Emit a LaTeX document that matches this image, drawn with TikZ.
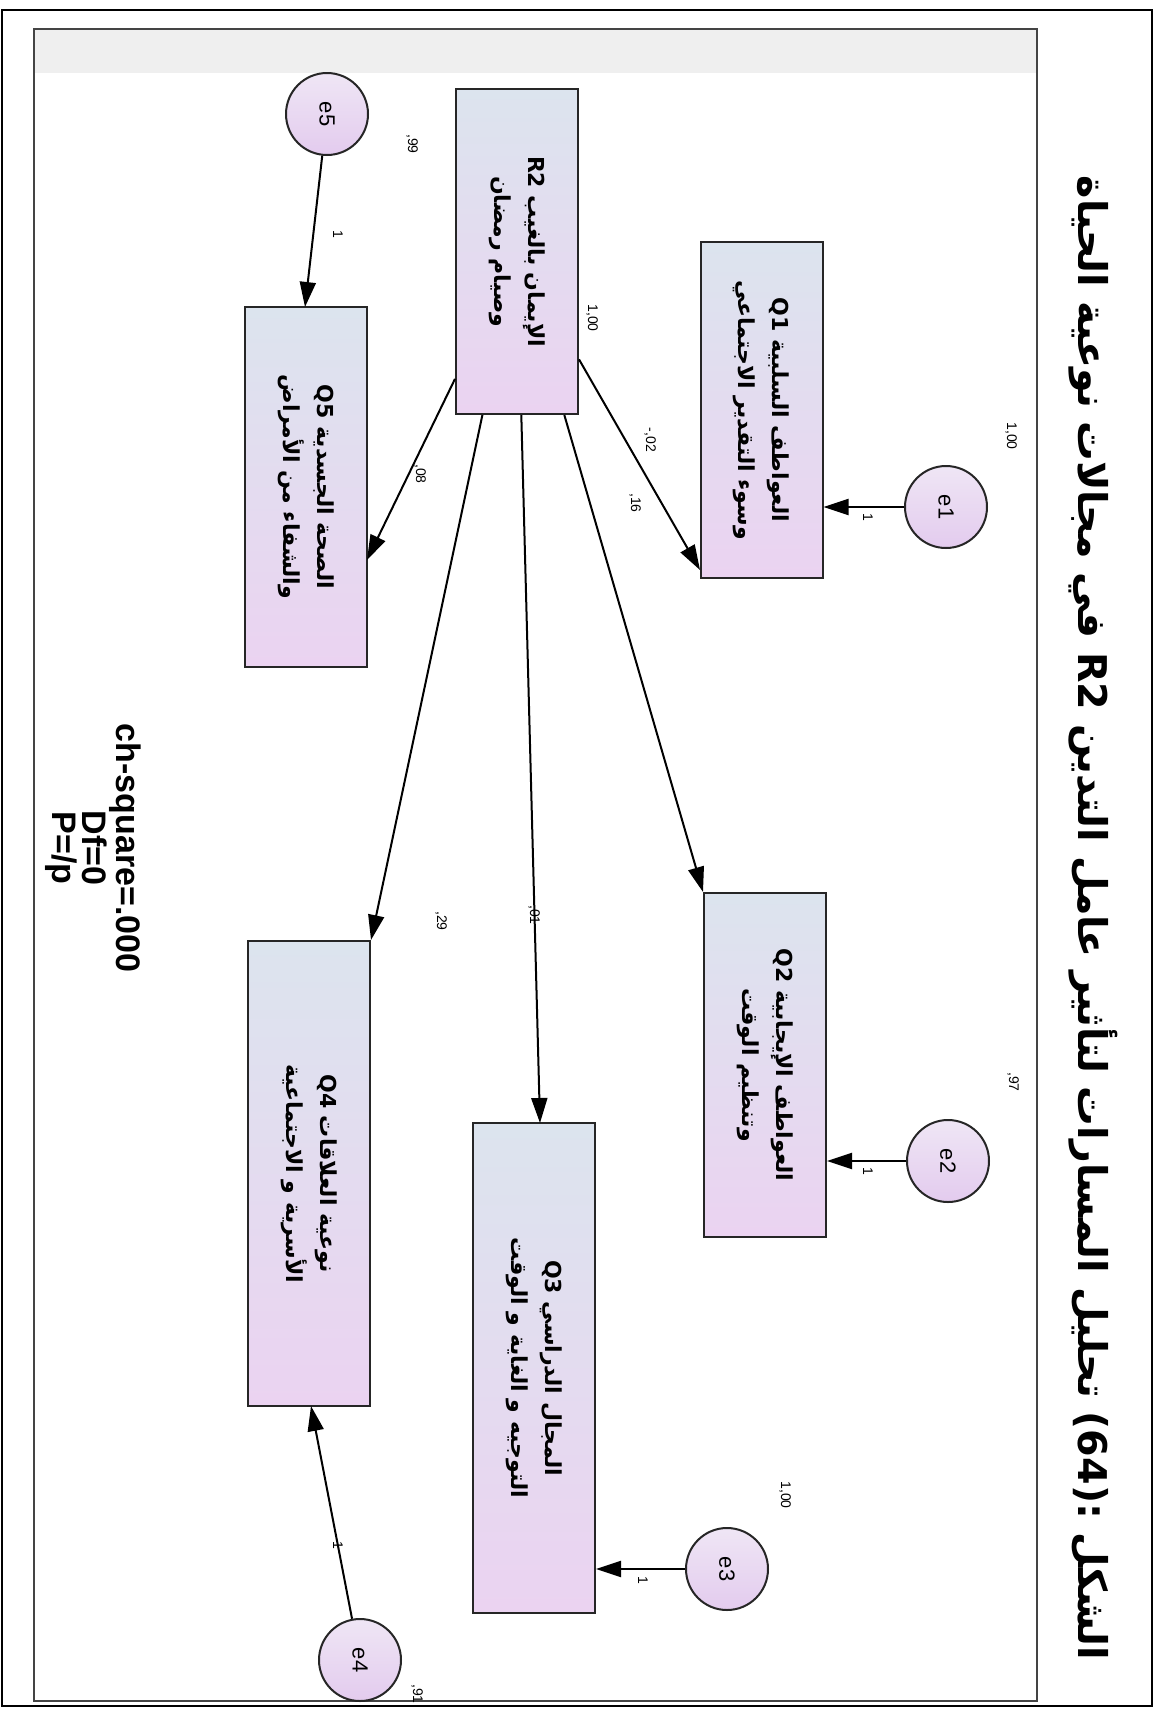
\documentclass[tikz,border=0pt]{standalone}
\usepackage{fontspec}
\setmainfont{Liberation Sans}
\newfontfamily\arabicfont[Script=Arabic]{DejaVu Sans}
\TeXXeTstate=1
\usetikzlibrary{arrows.meta,calc}

\definecolor{boxtop}{HTML}{DCE4EE}
\definecolor{boxbot}{HTML}{EBD3F1}
\definecolor{errtop}{HTML}{EFE6F5}
\definecolor{errbot}{HTML}{E3CBEE}
\definecolor{band}{HTML}{EFEFEF}
\definecolor{framegray}{HTML}{444444}

\tikzset{
  varbox/.style={draw=black!85, line width=1pt, rotate=-90,
    top color=boxtop, bottom color=boxbot,
    minimum height=61pt, inner sep=0pt, align=center,
    font=\arabicfont\bfseries\fontsize{11}{17}\selectfont},
  errnode/.style={circle, draw=black!85, line width=1pt, rotate=-90,
    top color=errtop, bottom color=errbot,
    minimum size=41pt, inner sep=0pt, font=\fontsize{11}{12}\selectfont},
  coef/.style={rotate=-90, inner sep=1pt, font=\fontsize{7}{8}\selectfont},
  path/.style={line width=1pt, -{Triangle[length=12.5pt,width=8pt]}}
}

\begin{document}
\begin{tikzpicture}[x=0.5pt,y=-0.5pt]
\useasboundingbox (0,0) rectangle (1154,1709);
\fill[white] (0,0) rectangle (1154,1709);

% page frame and model canvas
\draw[line width=1.2pt] (2,10) rectangle (1152,1706);
\fill[band] (34,29) rectangle (1037,73);
\draw[framegray, line width=1pt] (34,29) rectangle (1037,1701);

% caption
\node[rotate=-90, inner sep=0pt, font=\arabicfont\bfseries\fontsize{19.8}{22}\selectfont] (title) at (1093,918)
  {\beginR الشكل \beginL:(64)\endL{} تحليل المسارات لتأثير عامل التدين \beginL R2\endL{} في مجالات نوعية الحياة\endR};

% observed variables
\node[varbox, minimum width=162.5pt] (R2) at (517,251.5)
  {\beginR الإيمان بالغيب \beginL R2\endL\endR\\\beginR وصيام رمضان\endR};
\node[varbox, minimum width=168pt] (Q1) at (761.5,410)
  {\beginR العواطف السلبية \beginL Q1\endL\endR\\\beginR وسوء التقدير الاجتماعي\endR};
\node[varbox, minimum width=172pt] (Q2) at (765,1065)
  {\beginR العواطف الإيجابية \beginL Q2\endL\endR\\\beginR وتنظيم الوقت\endR};
\node[varbox, minimum width=245pt] (Q3) at (534,1368)
  {\beginR المجال الدراسي \beginL Q3\endL\endR\\\beginR التوجيه و الغاية و الوقت\endR};
\node[varbox, minimum width=232.5pt] (Q4) at (309,1173.5)
  {\beginR نوعية العلاقات \beginL Q4\endL\endR\\\beginR الأسرية و الاجتماعية\endR};
\node[varbox, minimum width=180pt] (Q5) at (306,487)
  {\beginR الصحة الجسدية \beginL Q5\endL\endR\\\beginR والشفاء من الأمراض\endR};

% error terms
\node[errnode] (e1) at (946,507) {e1};
\node[errnode] (e2) at (948,1161) {e2};
\node[errnode] (e3) at (727,1569) {e3};
\node[errnode] (e4) at (360,1660) {e4};
\node[errnode] (e5) at (327,114) {e5};

% path end points on the boxes
\coordinate (q1in) at (700,570);
\coordinate (q3in) at (540,1123);
\coordinate (q5in) at (367,560);
\coordinate (q5top) at (305,307);
\coordinate (q4bot) at (311,1406);

% structural paths
\draw[path] (R2) -- (q1in);
\draw[path] (R2) -- (Q2.south west);
\draw[path] (R2) -- (q3in);
\draw[path] (R2) -- (Q4.north west);
\draw[path] (R2) -- (q5in);

% error paths
\draw[path] (e1) -- (e1 -| Q1.north);
\draw[path] (e2) -- (e2 -| Q2.north);
\draw[path] (e3) -- (e3 -| Q3.north);
\draw[path] (e4) -- (q4bot);
\draw[path] (e5) -- (q5top);

% estimates
\node[coef] (c99) at (412,144) {,99};
\node[coef] (c1e5) at (338,234) {1};
\node[coef] (cR2) at (592,318) {1,00};
\node[coef] (c02) at (650,440) {-,02};
\node[coef] (c100a) at (1011,436) {1,00};
\node[coef] (c1e1) at (868,517) {1};
\node[coef] (c08) at (420,474) {,08};
\node[coef] (c16) at (635,503) {,16};
\node[coef] (c01) at (534,915) {,01};
\node[coef] (c29) at (441,921) {,29};
\node[coef] (c1e2) at (868,1171) {1};
\node[coef] (c97) at (1013,1082) {,97};
\node[coef] (c100b) at (785,1495) {1,00};
\node[coef] (c1e3) at (643,1580) {1};
\node[coef] (c1e4) at (338,1545) {1};
\node[coef] (c91) at (417,1694) {,91};

% fit summary
\node[rotate=-90, align=center, inner sep=0pt, font=\bfseries\fontsize{17}{15}\selectfont] (fit) at (93,848)
  {ch-square=.000\\Df=0\\P=/p};
\end{tikzpicture}
\end{document}
